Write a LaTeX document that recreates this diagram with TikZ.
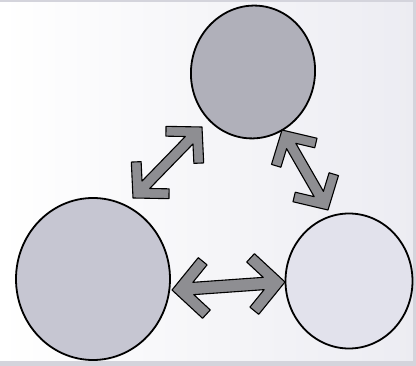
\documentclass[tikz,border=0pt]{standalone}
\usetikzlibrary{calc,shapes.geometric}
\definecolor{topfill}{RGB}{176,176,186}
\definecolor{leftfill}{RGB}{198,198,210}
\definecolor{rightfill}{RGB}{226,226,236}
\definecolor{arrowfill}{RGB}{142,142,146}
\definecolor{bgright}{RGB}{236,236,242}
\definecolor{edge}{RGB}{212,212,220}
\tikzset{
  blob/.style={draw=black, line width=1.8pt, ellipse, inner sep=0pt},
  fatarrow/.style={fill=arrowfill, draw=black, line width=1.1pt, line join=round},
}
\newcommand\dblarrow[3]{% #1, #2 tips, #3 scale
 \path[fatarrow]
 (#1) -- ($(#1)!#3*30pt!(#2)!#3*32pt!90:(#2)$) -- ($(#1)!#3*38.7pt!(#2)!#3*23.8pt!90:(#2)$) -- ($(#1)!#3*22.5pt!(#2)!#3*6.5pt!90:(#2)$)
 -- ($(#2)!#3*22.5pt!(#1)!#3*6.5pt!-90:(#1)$) -- ($(#2)!#3*38.7pt!(#1)!#3*23.8pt!-90:(#1)$) -- ($(#2)!#3*30pt!(#1)!#3*32pt!-90:(#1)$) -- (#2)
 -- ($(#2)!#3*30pt!(#1)!#3*32pt!90:(#1)$) -- ($(#2)!#3*38.7pt!(#1)!#3*23.8pt!90:(#1)$) -- ($(#2)!#3*22.5pt!(#1)!#3*6.5pt!90:(#1)$)
 -- ($(#1)!#3*22.5pt!(#2)!#3*6.5pt!-90:(#2)$) -- ($(#1)!#3*38.7pt!(#2)!#3*23.8pt!-90:(#2)$) -- ($(#1)!#3*30pt!(#2)!#3*32pt!-90:(#2)$) -- cycle;
}
\begin{document}
\begin{tikzpicture}[x=1pt,y=-1pt]
\useasboundingbox (0,0) rectangle (416,366);
\shade[left color=white, right color=bgright, shading angle=90] (0,0) rectangle (416,366);
\fill[edge] (0,0) rectangle (416,2);
\fill[edge] (0,361) rectangle (416,366);
\fill[edge] (413,0) rectangle (416,366);
% circles
\node[blob, fill=topfill, minimum width=124pt, minimum height=133pt, rotate=-8] (top) at (253,72) {};
\node[blob, fill=leftfill, minimum width=154pt, minimum height=162pt] (left) at (93,279) {};
\node[blob, fill=rightfill, minimum width=127pt, minimum height=135pt] (right) at (349,281) {};
% arrow tips
\coordinate (a1l) at (133,198);
\coordinate (a1t) at (202,127);
\coordinate (a2t) at (282,130);
\coordinate (a2r) at (328,210);
\coordinate (a3l) at (172,290);
\coordinate (a3r) at (285,282);
\dblarrow{a1l}{a1t}{0.82}
\dblarrow{a2t}{a2r}{0.82}
\dblarrow{a3l}{a3r}{0.95}
\end{tikzpicture}
\end{document}
